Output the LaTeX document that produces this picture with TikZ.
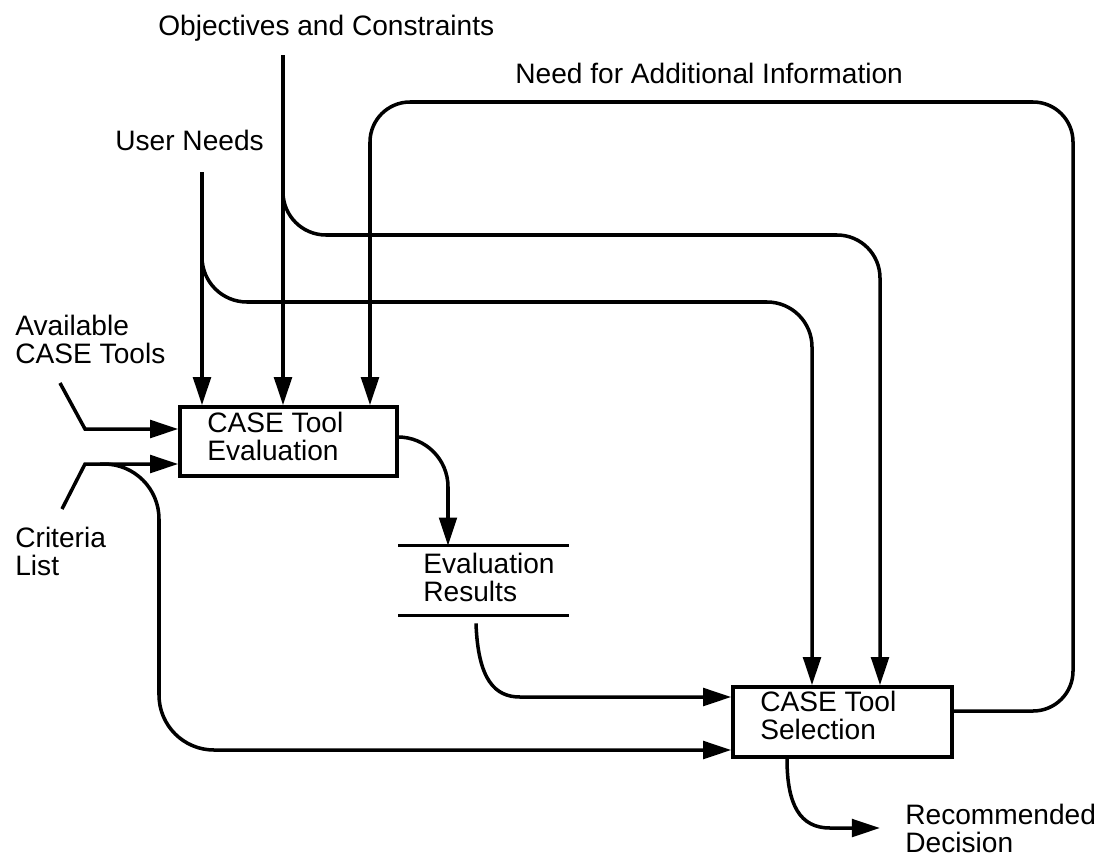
\documentclass[tikz,border=0pt]{standalone}
\usepackage{fontspec}
\setmainfont{Liberation Sans}
\usetikzlibrary{arrows.meta}
\begin{document}
\begin{tikzpicture}[x=0.02cm,y=-0.02cm,
  wire/.style={line width=2pt},
  flow/.style={line width=2pt,-{Triangle[length=16pt,width=10pt]}},
  procbox/.style={draw,line width=2pt,inner sep=0pt},
  lbl/.style={anchor=north west,inner sep=0pt,align=left,font=\fontsize{16}{16}\selectfont}]
\useasboundingbox (0,0) rectangle (1115,859);
% boxes
\node[procbox,minimum width=4.34cm,minimum height=1.38cm] (eval) at (288.5,441.5) {};
\node[procbox,minimum width=4.38cm,minimum height=1.4cm] (sel) at (842.5,722) {};
\node[inner sep=0pt,minimum width=3.4cm,minimum height=1.38cm] (store) at (483.5,580.5) {};
\draw[wire] (store.north west) -- (store.north east);
\draw[wire] (store.south west) -- (store.south east);
% texts
\node[lbl] (evaltxt) at (207,412) {CASE Tool\\Evaluation};
\node[lbl] (seltxt) at (760,691) {CASE Tool\\Selection};
\node[lbl] (restxt) at (423,553) {Evaluation\\Results};
\node[lbl] (obj) at (158,15) {Objectives and Constraints};
\node[lbl] (user) at (115,130) {User Needs};
\node[lbl] (need) at (515,63) {Need for Additional Information};
\node[lbl] (avail) at (15,315) {Available\\CASE Tools};
\node[lbl] (crit) at (15,527) {Criteria\\List};
\node[lbl] (rec) at (905,804) {Recommended\\Decision};
% free ends
\coordinate (un) at (202,172);
\coordinate (oc) at (283,55);
\coordinate (av) at (60,383);
\coordinate (cl) at (62,509);
\coordinate (rd) at (880,828);
% inputs from above
\draw[flow] (un) -- (un |- eval.north);
\draw[flow,rounded corners=0.9cm] (202,250) -- (202,302) -- (812,302) -- (812,0 |- sel.north);
\draw[flow] (oc) -- (oc |- eval.north);
\draw[flow,rounded corners=0.86cm] (283,190) -- (283,235) -- (880,235) -- (880,0 |- sel.north);
% feedback loop
\draw[flow,rounded corners=0.8cm] (sel.east |- 0,711) -- (1073,711) -- (1073,102) -- (370,102) -- (370,0 |- eval.north);
% inputs from the left
\draw[flow] (av) -- (85,429) -- (eval.west |- 0,429);
\draw[flow] (cl) -- (85,464) -- (eval.west |- 0,464);
\draw[flow,rounded corners=1.1cm] (100,464) -- (159,464) -- (159,750) -- (sel.west |- 0,750);
% outputs
\draw[flow,rounded corners=1cm] (eval.east |- 0,437) -- (448,437) -- (448,0 |- store.north);
\draw[flow] (476,0 |- store.south) ++(0,8) .. controls (478,680) and (495,697) .. (520,697) -- (sel.west |- 0,697);
\draw[flow] (787,0 |- sel.south) .. controls (787,805) and (800,828) .. (830,828) -- (rd);
\end{tikzpicture}
\end{document}
